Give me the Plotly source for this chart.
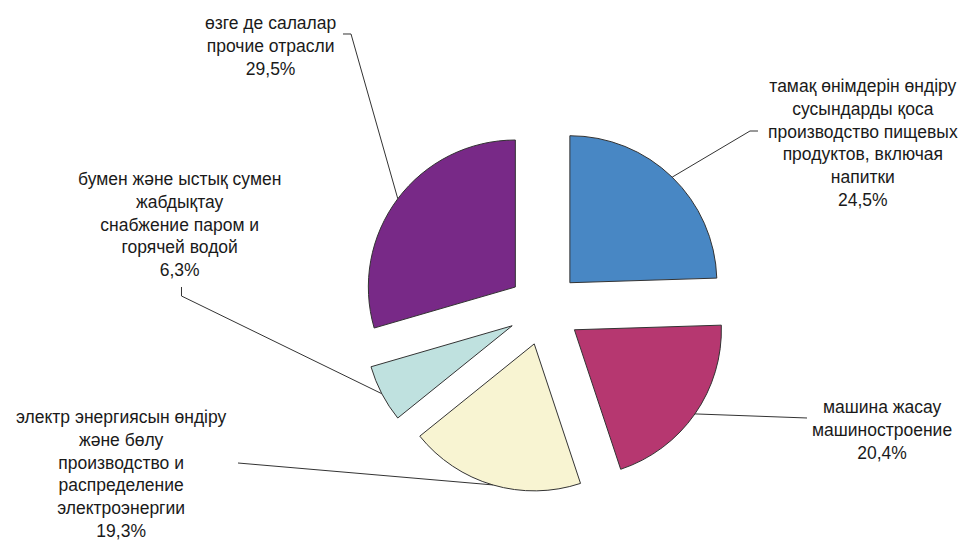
import math
import plotly.graph_objects as go

# ---------------- data ----------------
names_kz = [
    "тамақ өнімдерін өндіру<br>сусындарды қоса",
    "машина жасау",
    "электр энергиясын өндіру<br>және бөлу",
    "бумен және ыстық сумен<br>жабдықтау",
    "өзге де салалар",
]
names_ru = [
    "производство пищевых<br>продуктов, включая<br>напитки",
    "машиностроение",
    "производство и<br>распределение<br>электроэнергии",
    "снабжение паром и<br>горячей водой",
    "прочие отрасли",
]
values = [24.5, 20.4, 19.3, 6.3, 29.5]

# ---------------- style ----------------
colors = ["#4887C4", "#B63770", "#F8F4D2", "#BFE1DF", "#782987"]
W, H = 967, 543
OFF = 8                   # page body margin offset (px)
R = 147.0                 # pie radius (px)
PULL = 0.248              # explode fraction
CENTER = (544.5, 308.9)   # pie centre (screen px)
label_pos = [(863, 143), (882, 430), (121, 474), (179, 224), (270, 46)]
leader_out = [
    [(750, 131), (758, 131)],
    [(807, 418)],
    [(238, 463)],
    [(181.5, 296), (181.5, 287)],
    [(351, 34), (343, 34)],
]
FONT = "Liberation Sans, Arial, sans-serif"
FSIZE = 17.5
LINE = "#333333"


def px(x, y):
    return (x - OFF) / W, 1 - (y - OFF) / H


def domain_for(center):
    side = R * (2 + 2 * PULL)
    cx, cy = center
    x0, y1 = px(cx - side / 2, cy - side / 2)
    x1, y0 = px(cx + side / 2, cy + side / 2)
    return dict(x=[x0, x1], y=[y0, y1])


n = len(values)
total = sum(values)
labels = [f"{k} / {r}" for k, r in zip(names_kz, names_ru)]

fig = go.Figure()
fig.add_trace(go.Pie(
    labels=labels, values=values, sort=False, direction="clockwise", rotation=0,
    pull=[PULL] * n, textinfo="none", hoverinfo="label+percent",
    marker=dict(colors=colors, line=dict(color=LINE, width=1)),
    domain=domain_for(CENTER), showlegend=False,
))

# labels and leader lines (attached at each slice's mid-angle on its arc)
cum = 0.0
for i, v in enumerate(values):
    a0 = cum / total * 360
    cum += v
    a1 = cum / total * 360
    mid = math.radians((a0 + a1) / 2)
    d = PULL * R + R
    ax = CENTER[0] + d * math.sin(mid)
    ay = CENTER[1] - d * math.cos(mid)
    pts = [(ax, ay)] + leader_out[i]
    path = "M " + " L ".join(f"{px(x, y)[0]:.5f},{px(x, y)[1]:.5f}" for x, y in pts)
    fig.add_shape(type="path", path=path, xref="paper", yref="paper",
                  line=dict(color=LINE, width=1))
    pct = f"{v:.1f}%".replace(".", ",")
    text = f"{names_kz[i]}<br>{names_ru[i]}<br>{pct}"
    lx, ly = px(*label_pos[i])
    fig.add_annotation(x=lx, y=ly, xref="paper", yref="paper", text=text,
                       showarrow=False, xanchor="center", yanchor="middle",
                       align="center", font=dict(family=FONT, size=FSIZE, color="#1a1a1a"))

fig.update_layout(
    width=W, height=H, margin=dict(l=0, r=0, t=0, b=0),
    paper_bgcolor="white", plot_bgcolor="white",
    font=dict(family=FONT),
)
fig.write_html("out.html")
